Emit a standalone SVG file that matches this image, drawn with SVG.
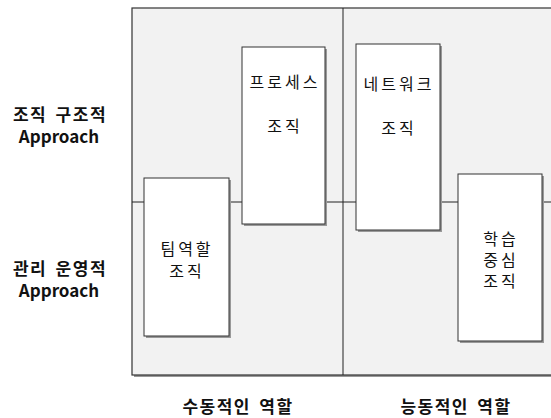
<svg xmlns="http://www.w3.org/2000/svg" width="551" height="418" viewBox="0 0 551 418">
<defs>
<style>
.frame{fill:#f2f2f2;stroke:#333;stroke-width:1.2}
.shadow{fill:#999}
.box{fill:#fff;stroke:#333;stroke-width:1}
.line{stroke:#222;stroke-width:1;fill:none}
.t{font-family:"Noto Sans CJK KR","Noto Sans",sans-serif;font-size:16px;fill:#111;text-anchor:middle;letter-spacing:3px}
.b{font-family:"Noto Sans CJK KR","Noto Sans",sans-serif;font-size:17px;font-weight:bold;fill:#111;text-anchor:middle}
.k{letter-spacing:1.5px;word-spacing:3px}
</style>
</defs>
<g id="frame">
<rect class="shadow" x="134" y="10" width="420" height="367"/>
<rect class="frame" x="132" y="8" width="420" height="367"/>
</g>
<g id="connectors">
<line class="line" x1="343" y1="8" x2="343" y2="375"/>
<line class="line" x1="132" y1="202" x2="551" y2="202"/>
</g>
<g id="team">
<rect class="shadow" x="146" y="180" width="85" height="158"/>
<rect class="box" x="144" y="178" width="85" height="158"/>
<text class="t" x="187" y="255">팀역할<tspan x="187" dy="22">조직</tspan></text>
</g>
<g id="process">
<rect class="shadow" x="244" y="49" width="83" height="177"/>
<rect class="box" x="242" y="47" width="83" height="177"/>
<text class="t" x="285" y="88">프로세스</text>
<text class="t" x="285" y="132">조직</text>
</g>
<g id="network">
<rect class="shadow" x="358" y="46" width="84" height="186"/>
<rect class="box" x="356" y="44" width="84" height="186"/>
<text class="t" x="399" y="90">네트워크</text>
<text class="t" x="399" y="134">조직</text>
</g>
<g id="learning">
<rect class="shadow" x="460" y="176" width="84" height="167"/>
<rect class="box" x="458" y="174" width="84" height="167"/>
<text class="t" x="501" y="245">학습<tspan x="501" dy="21">중심</tspan><tspan x="501" dy="21">조직</tspan></text>
</g>
<g id="labels">
<text class="b" x="60" y="121"><tspan class="k">조직 구조적</tspan><tspan x="59" dy="22">Approach</tspan></text>
<text class="b" x="60" y="275"><tspan class="k">관리 운영적</tspan><tspan x="59" dy="22">Approach</tspan></text>
<text class="b k" x="238" y="413">수동적인 역할</text>
<text class="b k" x="456" y="413">능동적인 역할</text>
</g>
</svg>
